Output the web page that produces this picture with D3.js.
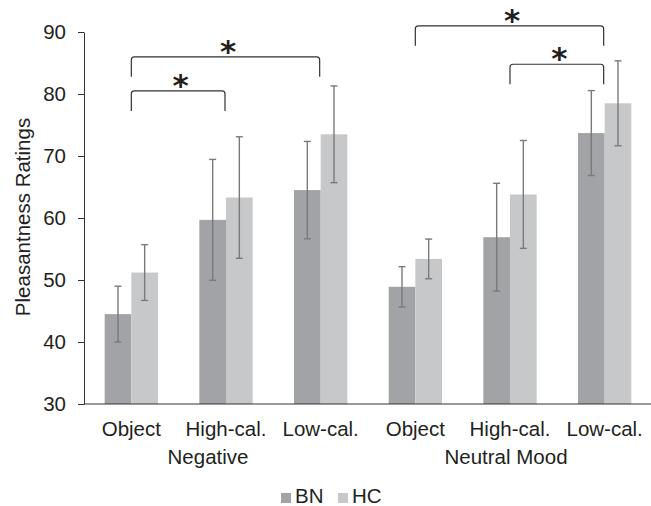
<!DOCTYPE html>
<html>
<head>
<meta charset="utf-8">
<script src="https://cdn.jsdelivr.net/npm/d3@7"></script>
<style>
  body { margin: 0; background: #fff; }
  text { font-family: "Liberation Sans", Arial, sans-serif; fill: #231f20; }
</style>
</head>
<body>
<div id="container"></div>
<script>
// Chart data
const moods = ["Negative", "Neutral Mood"];
const foods = ["Object", "High-cal.", "Low-cal."];
const seriesNames = ["BN", "HC"];
const bnMeans = [44.5, 59.7, 64.5, 48.9, 56.9, 73.7];
const bnErrors = [4.5, 9.75, 7.85, 3.25, 8.7, 6.85];
const hcMeans = [51.2, 63.3, 73.5, 53.4, 63.8, 78.5];
const hcErrors = [4.5, 9.8, 7.8, 3.2, 8.7, 6.85];
const yTicks = [30, 40, 50, 60, 70, 80, 90];
// significance brackets: from category index, to category index, level
const sigFrom = [0, 0, 3, 4];
const sigTo = [1, 2, 5, 5];
const sigLevel = [80.5, 86, 91, 84.8];

function BuildGraph(){

  let chartWidth = 651;
  let chartHeight = 506;
  let left = 84, right = 652, top = 32, bottom = 404;
  let fontSize = '20.5px';

  let svg = d3.select('#container')
    .append('svg')
    .attr('width', chartWidth)
    .attr('height', chartHeight);

  // one category per mood/food pair
  let categories = [];
  moods.forEach((m) => foods.forEach((f) => categories.push(m + '|' + f)));

  let rows = categories.map((c, i) => ({
    cat: c,
    values: [
      {name: 'BN', mean: bnMeans[i], err: bnErrors[i]},
      {name: 'HC', mean: hcMeans[i], err: hcErrors[i]}
    ]
  }));

  let x0 = d3.scaleBand()
    .domain(categories)
    .range([left, right]);

  let x1 = d3.scaleBand()
    .domain(seriesNames)
    .range([0, x0.bandwidth()])
    .paddingOuter(0.775);

  let yScale = d3.scaleLinear()
    .domain([30, 90])
    .range([bottom, top]);

  let colors = d3.scaleOrdinal()
    .domain(seriesNames)
    .range(['#a2a3a6', '#c7c8ca']);

  // bars
  let groups = svg.append('g')
    .selectAll('g')
    .data(rows)
    .enter()
    .append('g')
    .attr('transform', (d) => 'translate(' + x0(d.cat) + ',0)');

  groups.selectAll('rect')
    .data((d) => d.values)
    .enter()
    .append('rect')
    .attr('x', (d) => x1(d.name))
    .attr('y', (d) => yScale(d.mean))
    .attr('width', x1.bandwidth())
    .attr('height', (d) => yScale(30) - yScale(d.mean))
    .attr('fill', (d) => colors(d.name));

  // error bars
  let errs = groups.selectAll('g.err')
    .data((d) => d.values)
    .enter()
    .append('g')
    .attr('class', 'err')
    .attr('stroke', '#7a7a7a')
    .attr('stroke-width', 1.4);

  let cx = (d) => x1(d.name) + x1.bandwidth() / 2;
  errs.append('line')
    .attr('x1', cx).attr('x2', cx)
    .attr('y1', (d) => yScale(d.mean + d.err))
    .attr('y2', (d) => yScale(d.mean - d.err));
  errs.append('line')
    .attr('x1', (d) => cx(d) - 3.5).attr('x2', (d) => cx(d) + 3.5)
    .attr('y1', (d) => yScale(d.mean + d.err))
    .attr('y2', (d) => yScale(d.mean + d.err));
  errs.append('line')
    .attr('x1', (d) => cx(d) - 3.5).attr('x2', (d) => cx(d) + 3.5)
    .attr('y1', (d) => yScale(d.mean - d.err))
    .attr('y2', (d) => yScale(d.mean - d.err));

  // y axis
  let yAxis = d3.axisLeft(yScale)
    .tickValues(yTicks)
    .tickSize(6)
    .tickPadding(12)
    .tickSizeOuter(0);
  let yG = svg.append('g')
    .attr('transform', 'translate(' + left + ',0)')
    .call(yAxis);
  yG.selectAll('text').style('font-size', fontSize);
  yG.selectAll('line, path').attr('stroke', '#333');

  // x axis line
  svg.append('line')
    .attr('x1', left).attr('x2', 651)
    .attr('y1', bottom).attr('y2', bottom)
    .attr('stroke', '#333');

  // category labels
  svg.append('g')
    .selectAll('text')
    .data(categories)
    .enter()
    .append('text')
    .attr('x', (d) => x0(d) + x0.bandwidth() / 2)
    .attr('y', 436)
    .attr('text-anchor', 'middle')
    .style('font-size', fontSize)
    .text((d) => d.split('|')[1]);

  // mood labels
  let moodX = moods.map((m) => {
    let cats = categories.filter((c) => c.startsWith(m + '|'));
    return (x0(cats[0]) + x0(cats[cats.length - 1]) + x0.bandwidth()) / 2;
  });
  svg.append('g')
    .selectAll('text')
    .data(moods)
    .enter()
    .append('text')
    .attr('x', (d, i) => moodX[i] - (i === 0 ? 18 : 4))
    .attr('y', 464)
    .attr('text-anchor', 'middle')
    .style('font-size', fontSize)
    .text((d) => d);

  // y axis title
  svg.append('text')
    .attr('transform', 'translate(30,217) rotate(-90)')
    .attr('text-anchor', 'middle')
    .style('font-size', fontSize)
    .text('Pleasantness Ratings');

  // significance brackets
  let legLen = 20, r = 3;
  let brackets = svg.append('g')
    .selectAll('g')
    .data(sigFrom.map((f, i) => ({from: categories[f], to: categories[sigTo[i]], level: sigLevel[i]})))
    .enter()
    .append('g');

  brackets.append('path')
    .attr('fill', 'none')
    .attr('stroke', '#333')
    .attr('stroke-width', 1.2)
    .attr('d', (d) => {
      let xa = x0(d.from) + x0.bandwidth() / 2;
      let xb = x0(d.to) + x0.bandwidth() / 2 - 1;
      let yy = yScale(d.level);
      return 'M' + xa + ',' + (yy + legLen) +
        'L' + xa + ',' + (yy + r) +
        'Q' + xa + ',' + yy + ' ' + (xa + r) + ',' + yy +
        'L' + (xb - r) + ',' + yy +
        'Q' + xb + ',' + yy + ' ' + xb + ',' + (yy + r) +
        'L' + xb + ',' + (yy + legLen);
    });

  brackets.append('text')
    .attr('x', (d) => (x0(d.from) + x0(d.to)) / 2 + x0.bandwidth() / 2 + 2)
    .attr('y', (d) => yScale(d.level) + 5)
    .attr('text-anchor', 'middle')
    .style('font-family', '"DejaVu Sans", sans-serif')
    .style('font-weight', 'bold')
    .style('font-size', '31px')
    .text('*');

  // legend
  let legend = svg.append('g')
    .selectAll('g')
    .data(seriesNames)
    .enter()
    .append('g')
    .attr('transform', (d, i) => 'translate(' + (281 + i * 57) + ',493)');
  legend.append('rect')
    .attr('width', 10)
    .attr('height', 10)
    .attr('fill', (d) => colors(d));
  legend.append('text')
    .attr('x', 14)
    .attr('y', 9.5)
    .style('font-size', fontSize)
    .text((d) => d);
}

BuildGraph();
</script>
</body>
</html>
